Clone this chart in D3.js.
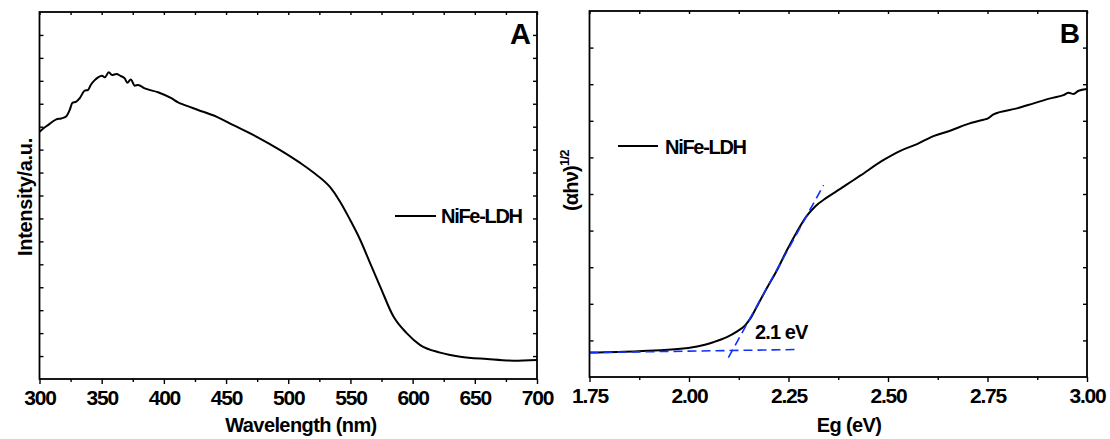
<!DOCTYPE html>
<html>
<head>
<meta charset="utf-8">
<script src="https://cdn.jsdelivr.net/npm/d3@7"></script>
<style>
  html, body { margin: 0; padding: 0; background: #fff; }
  svg { display: block; }
  text { font-family: "Liberation Sans", Arial, sans-serif; font-weight: bold; fill: #000; }
</style>
</head>
<body>
<svg id="chart" width="1110" height="439"></svg>
<script>
// Panel A: UV-vis absorption spectrum of NiFe-LDH
const wavelength = [300, 301.4, 306.8, 313.5, 317.5, 321.6, 324.3, 326.4, 329.6, 332.3, 336.4, 339, 341.2, 344.4, 347.1, 350.3, 352.5, 355.7, 358.3, 361.8, 365.3, 368.5, 370.6, 373.4, 376.6, 379.2, 384.6, 395.3, 406, 411.4, 416.8, 427.5, 442.6, 455.9, 474.7, 493.5, 509.6, 520.3, 533.7, 541.8, 549.8, 557.9, 565.9, 574, 584.6, 595.4, 606.1, 622.2, 638.3, 659.8, 681.2, 700];
const intensity = [10.78, 10.85, 11.07, 11.32, 11.36, 11.46, 11.73, 12.04, 12.09, 12.24, 12.57, 12.60, 12.82, 13.03, 13.15, 13.22, 13.15, 13.37, 13.25, 13.30, 13.21, 13.11, 12.92, 13.06, 12.79, 12.82, 12.67, 12.50, 12.24, 12.06, 11.94, 11.73, 11.43, 11.07, 10.56, 9.98, 9.42, 9.00, 8.36, 7.72, 6.93, 6.06, 5.04, 4.02, 2.72, 1.99, 1.48, 1.15, 0.97, 0.87, 0.80, 0.83];
const wavelengthTicks = [300, 350, 400, 450, 500, 550, 600, 650, 700];

// Panel B: Tauc plot, (αhν)^1/2 against photon energy
const energy = [1.75, 1.873, 1.998, 2.040, 2.061, 2.082, 2.095, 2.120, 2.141, 2.153, 2.170, 2.195, 2.221, 2.246, 2.271, 2.296, 2.317, 2.346, 2.380, 2.405, 2.430, 2.489, 2.531, 2.573, 2.614, 2.656, 2.698, 2.740, 2.750, 2.765, 2.824, 2.866, 2.908, 2.941, 2.954, 2.966, 2.979, 3.000];
const tauc = [0.667, 0.703, 0.793, 0.88, 0.95, 1.03, 1.09, 1.24, 1.41, 1.58, 1.914, 2.417, 2.918, 3.465, 3.965, 4.40, 4.66, 4.90, 5.140, 5.320, 5.500, 5.930, 6.180, 6.363, 6.582, 6.727, 6.902, 7.030, 7.060, 7.175, 7.339, 7.476, 7.613, 7.703, 7.766, 7.730, 7.821, 7.867];
const energyTicks = [1.75, 2.00, 2.25, 2.50, 2.75, 3.00];

// Linear extrapolations used to read the band gap
const baselineEnergy = [1.75, 2.266];
const baselineValue = [0.667, 0.75];
const tangentEnergy = [2.099, 2.338];
const tangentValue = [0.53, 5.24];
const bandGapLabel = "2.1 eV";
const bandGapLabelPos = [2.166, 1.05];

const seriesName = "NiFe-LDH";

const svg = d3.select("#chart");

function zip(xs, ys) { return xs.map((x, i) => [x, ys[i]]); }

function drawFrame(g, x, y, opts) {
  const [x0, x1] = x.range();
  const [y0, y1] = y.range();

  // bottom axis: labelled major ticks + minor ticks, outward
  g.append("g")
    .attr("transform", `translate(0,${y0})`)
    .call(d3.axisBottom(x).tickValues(opts.minor).tickSize(3).tickFormat(""))
    .call(s => s.select(".domain").remove());
  const bottom = g.append("g")
    .attr("transform", `translate(0,${y0})`)
    .call(d3.axisBottom(x).tickValues(opts.major).tickSize(5).tickPadding(6).tickFormat(opts.fmt));
  bottom.select(".domain").remove();
  bottom.selectAll("text")
    .style("font-size", "21px").style("letter-spacing", "-1.2px")
    .attr("dy", "0.7em");

  // top axis: inward ticks
  g.append("g")
    .attr("transform", `translate(0,${y1})`)
    .call(d3.axisBottom(x).tickValues(opts.minor.concat(opts.major)).tickSize(3).tickFormat(""))
    .call(s => s.select(".domain").remove());

  // left / right axes: inward ticks, no labels
  g.append("g")
    .attr("transform", `translate(${x0},0)`)
    .call(d3.axisRight(y).tickValues(opts.yTicks).tickSize(4).tickFormat(""))
    .call(s => s.select(".domain").remove());
  g.append("g")
    .attr("transform", `translate(${x1},0)`)
    .call(d3.axisLeft(y).tickValues(opts.yTicks).tickSize(4).tickFormat(""))
    .call(s => s.select(".domain").remove());

  g.selectAll(".tick line").attr("stroke", "#000").attr("stroke-width", 1.4);

  g.append("rect")
    .attr("x", x0).attr("y", y1)
    .attr("width", x1 - x0).attr("height", y0 - y1)
    .attr("fill", "none").attr("stroke", "#000").attr("stroke-width", 1.8);
}

// ---------- Panel A ----------
const xA = d3.scaleLinear().domain([300, 700]).range([39.5, 537]);
const yA = d3.scaleLinear().domain([0, 16]).range([379, 12]);
const gA = svg.append("g");

gA.append("path")
  .datum(zip(wavelength, intensity))
  .attr("fill", "none").attr("stroke", "#000").attr("stroke-width", 2)
  .attr("stroke-linejoin", "round")
  .attr("d", d3.line().x(d => xA(d[0])).y(d => yA(d[1])).curve(d3.curveMonotoneX));

drawFrame(gA, xA, yA, {
  major: wavelengthTicks,
  minor: d3.range(325, 700, 50),
  yTicks: d3.range(1, 16),
  fmt: d3.format("d")
});

gA.append("text").attr("x", 301).attr("y", 432)
  .attr("text-anchor", "middle").style("font-size", "20px").style("letter-spacing", "-0.6px")
  .text("Wavelength (nm)");
gA.append("text").attr("transform", "translate(32,197) rotate(-90)")
  .attr("text-anchor", "middle").style("font-size", "20px").style("letter-spacing", "-0.3px")
  .text("Intensity/a.u.");
gA.append("text").attr("x", 531).attr("y", 44)
  .attr("text-anchor", "end").style("font-size", "29px").text("A");

// legend A
gA.append("line").attr("x1", 395).attr("x2", 436).attr("y1", 216).attr("y2", 216)
  .attr("stroke", "#000").attr("stroke-width", 1.8);
gA.append("text").attr("x", 441).attr("y", 222.5)
  .style("font-size", "20px").style("letter-spacing", "-1.3px").text(seriesName);

// ---------- Panel B ----------
const xB = d3.scaleLinear().domain([1.75, 3.0]).range([589.5, 1087]);
const yB = d3.scaleLinear().domain([0, 10]).range([377, 11]);
const gB = svg.append("g");

gB.append("path")
  .datum(zip(energy, tauc))
  .attr("fill", "none").attr("stroke", "#000").attr("stroke-width", 2)
  .attr("stroke-linejoin", "round")
  .attr("d", d3.line().x(d => xB(d[0])).y(d => yB(d[1])).curve(d3.curveMonotoneX));

const fitLine = d3.line().x(d => xB(d[0])).y(d => yB(d[1]));
[zip(baselineEnergy, baselineValue), zip(tangentEnergy, tangentValue)].forEach(seg => {
  gB.append("path").datum(seg)
    .attr("fill", "none").attr("stroke", "#1030ff").attr("stroke-width", 1.6)
    .attr("stroke-dasharray", "9,5")
    .attr("d", fitLine);
});

drawFrame(gB, xB, yB, {
  major: energyTicks,
  minor: d3.range(1.875, 3.0, 0.25),
  yTicks: d3.range(1, 10),
  fmt: d3.format(".2f")
});

gB.append("text").attr("x", 849).attr("y", 432)
  .attr("text-anchor", "middle").style("font-size", "20px").style("letter-spacing", "-0.6px")
  .text("Eg (eV)");

const yLab = gB.append("text").attr("transform", "translate(578,211) rotate(-90)")
  .attr("text-anchor", "start").style("font-size", "20px").style("letter-spacing", "-0.8px");
yLab.append("tspan").text("(αhν)");
yLab.append("tspan").attr("dy", -9).style("font-size", "13px").text("1/2");

gB.append("text").attr("x", 1080).attr("y", 43)
  .attr("text-anchor", "end").style("font-size", "28px").text("B");

gB.append("text").attr("x", xB(bandGapLabelPos[0])).attr("y", yB(bandGapLabelPos[1]))
  .style("font-size", "20px").style("letter-spacing", "-0.9px").text(bandGapLabel);

// legend B
gB.append("line").attr("x1", 618).attr("x2", 658).attr("y1", 146).attr("y2", 146)
  .attr("stroke", "#000").attr("stroke-width", 1.8);
gB.append("text").attr("x", 665).attr("y", 153.5)
  .style("font-size", "20px").style("letter-spacing", "-1.3px").text(seriesName);
</script>
</body>
</html>
